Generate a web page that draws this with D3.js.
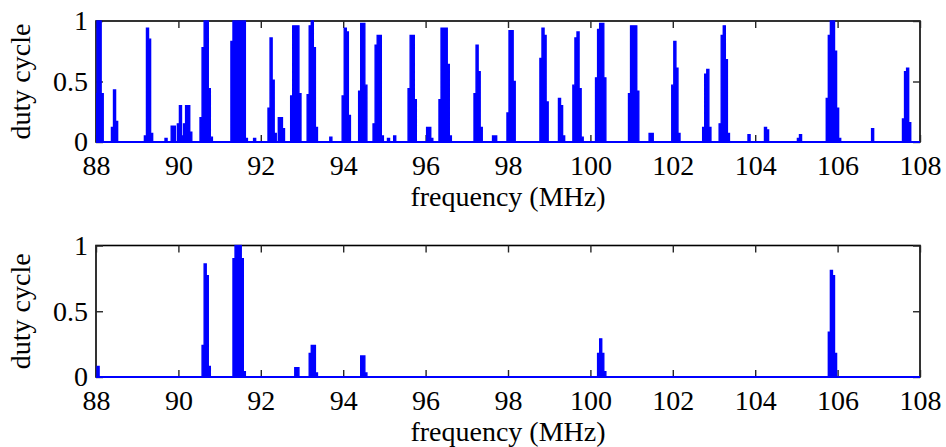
<!DOCTYPE html>
<html><head><meta charset="utf-8">
<script src="https://cdn.jsdelivr.net/npm/d3@7"></script>
<style>html,body{margin:0;padding:0;background:#fff;}svg{display:block;}</style>
</head><body>
<svg id="chart" width="946" height="447"></svg>
<script>
const xTicks = [88, 90, 92, 94, 96, 98, 100, 102, 104, 106, 108];
const yTicks = [0, 0.5, 1];
const yTickLabels = ["0", "0.5", "1"];
const xLabel = "frequency (MHz)";
const yLabel = "duty cycle";
const binWidth = 0.05;

const topFreq = [88.00,88.05,88.10,88.15,88.40,88.45,88.50,89.20,89.25,89.30,89.35,89.70,89.85,89.90,90.00,90.05,90.10,90.15,90.20,90.25,90.30,90.55,90.60,90.65,90.70,90.75,90.80,91.30,91.35,91.40,91.45,91.50,91.55,91.60,91.65,91.85,92.20,92.25,92.30,92.35,92.45,92.50,92.55,92.75,92.80,92.85,92.90,92.95,93.15,93.20,93.25,93.30,93.35,93.70,94.00,94.05,94.10,94.15,94.40,94.45,94.50,94.55,94.75,94.80,94.85,94.90,94.95,95.10,95.25,95.60,95.65,95.70,95.75,96.05,96.10,96.15,96.35,96.40,96.45,96.50,96.55,96.60,97.20,97.25,97.30,97.35,97.65,97.70,98.00,98.05,98.10,98.15,98.80,98.85,98.90,98.95,99.25,99.30,99.35,99.60,99.65,99.70,99.75,99.80,100.15,100.20,100.25,100.30,100.35,100.95,101.00,101.05,101.10,101.15,101.45,101.50,102.00,102.05,102.10,102.15,102.75,102.80,102.85,102.90,103.15,103.20,103.25,103.30,103.35,103.85,104.25,104.30,105.05,105.10,105.75,105.80,105.85,105.90,105.95,106.00,106.05,106.85,107.60,107.65,107.70,107.75];
const topDuty = [0.40,1.00,1.00,0.40,0.12,0.43,0.17,0.05,0.94,0.85,0.07,0.03,0.13,0.13,0.15,0.30,0.05,0.15,0.30,0.30,0.08,0.20,0.78,1.00,1.00,0.44,0.04,0.83,1.00,1.00,1.00,1.00,1.00,1.00,0.03,0.03,0.28,0.86,0.51,0.07,0.20,0.20,0.11,0.38,0.96,0.96,0.96,0.40,0.39,0.96,1.00,0.78,0.12,0.04,0.38,0.94,0.91,0.22,0.42,0.98,0.98,0.47,0.15,0.80,0.88,0.88,0.05,0.03,0.05,0.44,0.88,0.88,0.35,0.12,0.12,0.03,0.35,0.94,0.94,0.94,0.64,0.05,0.40,0.80,0.58,0.12,0.05,0.05,0.24,0.92,0.92,0.50,0.69,0.94,0.88,0.33,0.36,0.30,0.05,0.47,0.86,0.91,0.44,0.04,0.53,0.93,0.98,0.98,0.53,0.40,0.96,0.96,0.96,0.42,0.07,0.07,0.47,0.83,0.61,0.07,0.12,0.56,0.60,0.12,0.15,0.88,0.96,0.68,0.07,0.06,0.12,0.10,0.03,0.06,0.36,0.88,1.00,1.00,0.75,0.28,0.03,0.11,0.19,0.58,0.61,0.16];

const bottomFreq = [88.05,90.60,90.65,90.70,90.75,91.35,91.40,91.45,91.50,91.55,91.60,92.85,92.90,93.20,93.25,93.30,93.35,94.45,94.50,94.55,100.20,100.25,100.30,100.35,105.80,105.85,105.90,105.95];
const bottomDuty = [0.08,0.24,0.86,0.77,0.08,0.90,1.00,1.00,1.00,0.90,0.04,0.07,0.07,0.18,0.24,0.24,0.03,0.16,0.16,0.03,0.18,0.29,0.18,0.04,0.34,0.81,0.77,0.18];

const svg = d3.select("#chart");
svg.append("rect").attr("width", 946).attr("height", 447).attr("fill", "#fff");
const FONT = "'Liberation Serif', 'Times New Roman', serif";
const left = 96, right = 920;

function panel(id, top, bottom, freqs, duties) {
  const x = d3.scaleLinear().domain([88, 108]).range([left, right]);
  const y = d3.scaleLinear().domain([0, 1]).range([bottom, top]);
  const g = svg.append("g");
  const clipId = "clip" + id;
  svg.append("clipPath").attr("id", clipId).append("rect")
    .attr("x", left).attr("y", top - 1).attr("width", right - left).attr("height", bottom - top + 3);

  g.append("rect").attr("x", left).attr("y", top).attr("width", right - left).attr("height", bottom - top)
    .attr("fill", "none").attr("stroke", "#000").attr("stroke-width", 1.6);

  const ax = g.append("g").attr("transform", `translate(0,${bottom})`)
    .call(d3.axisBottom(x).tickValues(xTicks).tickFormat(d3.format("d")).tickSize(-7).tickPadding(13));
  const axT = g.append("g").attr("transform", `translate(0,${top})`)
    .call(d3.axisTop(x).tickValues(xTicks).tickFormat("").tickSize(-7));
  const ay = g.append("g").attr("transform", `translate(${left},0)`)
    .call(d3.axisLeft(y).tickValues(yTicks).tickFormat((d, i) => yTickLabels[i]).tickSize(-7).tickPadding(8));
  const ayR = g.append("g").attr("transform", `translate(${right},0)`)
    .call(d3.axisRight(y).tickValues(yTicks).tickFormat("").tickSize(-7));
  [ax, axT, ay, ayR].forEach(a => {
    a.select(".domain").remove();
    a.selectAll(".tick line").attr("stroke", "#262626").attr("stroke-width", 1.4);
    a.selectAll("text").attr("font-family", FONT).attr("font-size", 28).attr("fill", "#000");
  });

  // stepped outline; contiguous bins are joined without dropping to zero
  const pts = [];
  freqs.forEach((f, i) => {
    const d = duties[i];
    const contPrev = i > 0 && Math.abs(freqs[i - 1] + binWidth - f) < 1e-6;
    const contNext = i < freqs.length - 1 && Math.abs(f + binWidth - freqs[i + 1]) < 1e-6;
    const x0 = x(f - binWidth / 2), x1 = x(f + binWidth / 2);
    if (!contPrev) pts.push([x0, 0]);
    pts.push([x0, d], [x1, d]);
    if (!contNext) pts.push([x1, 0]);
  });
  const area = d3.area().x(p => p[0]).y0(y(0)).y1(p => y(p[1]));
  const dg = g.append("g").attr("clip-path", `url(#${clipId})`);
  dg.append("path").datum(pts).attr("d", area)
    .attr("fill", "#0000ff").attr("stroke", "#0000ff").attr("stroke-width", 1.4).attr("stroke-linejoin", "miter");
  dg.append("line").attr("x1", x(88)).attr("x2", x(108)).attr("y1", y(0)).attr("y2", y(0))
    .attr("stroke", "#0000ff").attr("stroke-width", 2.2);

  g.append("text").attr("x", (left + right) / 2).attr("y", bottom + 64)
    .attr("text-anchor", "middle").attr("font-family", FONT).attr("font-size", 28).text(xLabel);
  g.append("text").attr("transform", `translate(29.5,${(top + bottom) / 2}) rotate(-90)`)
    .attr("text-anchor", "middle").attr("font-family", FONT).attr("font-size", 28).text(yLabel);
}

panel("a", 21, 142, topFreq, topDuty);
panel("b", 245.5, 377, bottomFreq, bottomDuty);
</script>
</body></html>
